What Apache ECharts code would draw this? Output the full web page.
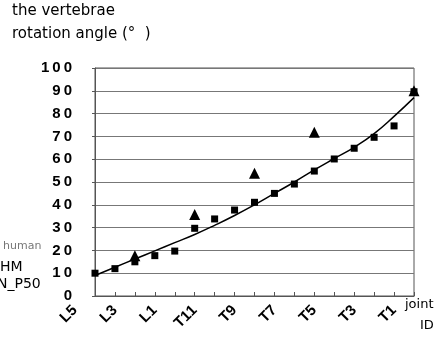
<!DOCTYPE html>
<html><head><meta charset="utf-8">
<script src="https://cdn.jsdelivr.net/npm/echarts@6/dist/echarts.min.js"></script>
<style>html,body{margin:0;padding:0;background:#fff}#c{width:442px;height:341px}</style>
</head><body><div id="c"></div>
<script>
const categories = ['L5','L4','L3','L2','L1','T12','T11','T10','T9','T8','T7','T6','T5','T4','T3','T2','T1'];
const yTicks = [0,10,20,30,40,50,60,70,80,90,100];
const hmValues = [10, 12, 15, 17.7, 19.7, 29.7, 33.8, 37.7, 41.1, 45, 49.1, 54.8, 60.1, 64.8, 69.6, 74.6, 89.6];
const humanValues = [null, null, 17.7, null, null, 35.8, null, null, 53.8, null, null, 71.8, null, null, null, null, 90];
const trendValues = [9, 12.6, 16.2, 19.8, 23.4, 27, 31, 35.3, 40, 45, 50, 55.3, 60.3, 65.2, 71.2, 78.8, 87];

const spaced = s => String(s).split('').join('\u2009');
const chart = echarts.init(document.getElementById('c'), null, {renderer:'canvas'});
chart.setOption({
  animation:false,
  grid:[
    {left:95, right:28, top:68, bottom:45, show:true, borderColor:'#555', borderWidth:1},
    {left:75, right:48, top:68, bottom:45, show:false}
  ],
  xAxis:[
    {type:'category', gridIndex:0, data:categories, boundaryGap:false,
      axisLine:{lineStyle:{color:'#555'}},
      axisTick:{inside:true, length:4, interval:0, lineStyle:{color:'#555'}},
      axisLabel:{show:false}, splitLine:{show:false}},
    {type:'category', gridIndex:1, data:categories, boundaryGap:false,
      axisLine:{show:true, lineStyle:{color:'rgba(0,0,0,0)'}},
      axisTick:{show:false}, splitLine:{show:false},
      axisLabel:{interval:1, rotate:45, fontSize:15, fontWeight:'bold', color:'#000', fontFamily:'Liberation Sans', margin:12}}
  ],
  yAxis:[
    {type:'value', gridIndex:0, min:yTicks[0], max:yTicks[yTicks.length-1], interval:10,
      axisLine:{show:true, lineStyle:{color:'#555'}},
      axisTick:{show:true, length:3, lineStyle:{color:'#555'}},
      axisLabel:{fontSize:15, fontWeight:'bold', color:'#000', fontFamily:'Liberation Sans', margin:23,
        formatter: v => spaced(v)},
      splitLine:{lineStyle:{color:'#777', width:1}}},
    {type:'value', gridIndex:1, min:0, max:100, show:false}
  ],
  series:[
    {name:'trend', type:'line', data:trendValues, smooth:true, showSymbol:false, symbol:'none',
      lineStyle:{color:'#000', width:1.5}, z:2},
    {name:'N_P50 HM', type:'scatter', data:hmValues, symbol:'rect', symbolSize:7,
      itemStyle:{color:'#000', opacity:1}, z:3},
    {name:'human', type:'scatter', data:humanValues, symbol:'triangle', symbolSize:11,
      itemStyle:{color:'#000', opacity:1}, z:4}
  ],
  graphic:[
    {type:'text', left:12, top:4, style:{text:'the vertebrae', font:'15px "DejaVu Sans"', fill:'#000'}},
    {type:'text', left:12, top:27, style:{text:'rotation angle (°  )', font:'15px "DejaVu Sans"', fill:'#000'}},
    {type:'text', left:3, top:241, style:{text:'human', font:'11px "DejaVu Sans"', fill:'#777'}},
    {type:'text', left:0, top:260, style:{text:'HM', font:'14px "DejaVu Sans"', fill:'#000'}},
    {type:'text', left:-3, top:277, style:{text:'N_P50', font:'14px "DejaVu Sans"', fill:'#000'}},
    {type:'text', left:405, top:298, style:{text:'joint', font:'13px "DejaVu Sans"', fill:'#000'}},
    {type:'text', left:420, top:319, style:{text:'ID', font:'13px "DejaVu Sans"', fill:'#000'}}
  ]
});
</script></body></html>
